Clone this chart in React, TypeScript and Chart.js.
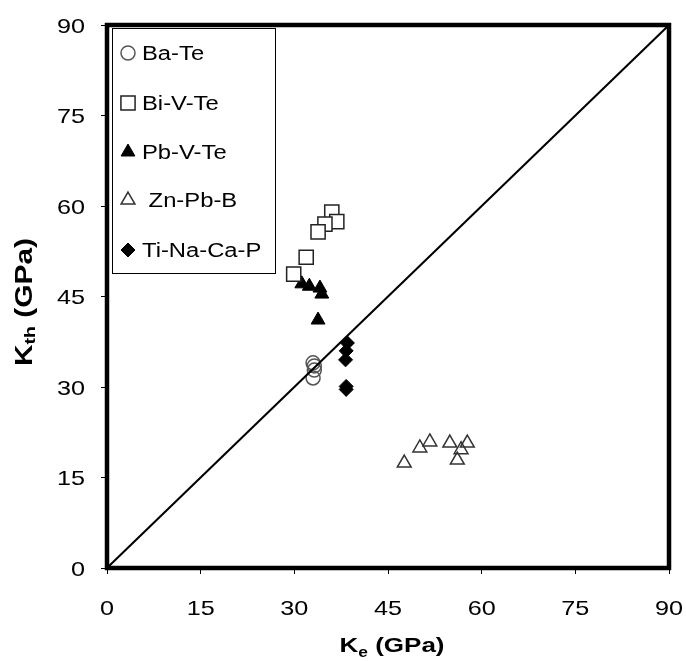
import { useEffect, useRef } from 'react';
import { Chart, registerables } from 'chart.js';
import { drawPoint } from 'chart.js/helpers';

Chart.register(...registerables);

// ---- data ----
const seriesNames = ['Ba-Te', 'Bi-V-Te', 'Pb-V-Te', ' Zn-Pb-B', 'Ti-Na-Ca-P'];

const baTeX = [33.0, 33.2, 33.2, 33.0];
const baTeY = [34.0, 33.5, 32.8, 31.5];

const biVTeX = [36.0, 36.8, 34.9, 33.8, 31.9, 29.9];
const biVTeY = [59.0, 57.4, 57.0, 55.7, 51.5, 48.7];

const pbVTeX = [30.1, 31.2, 32.4, 34.1, 34.4, 33.8];
const pbVTeY = [48.2, 47.1, 46.7, 46.4, 45.4, 41.1];

const znPbBX = [47.6, 50.1, 51.7, 54.9, 56.7, 57.7, 56.1];
const znPbBY = [17.4, 19.9, 20.9, 20.7, 19.6, 20.7, 17.9];

const tiNaCaPX = [38.5, 38.3, 38.2, 38.3, 38.3];
const tiNaCaPY = [37.3, 36.0, 34.5, 30.1, 29.6];

const lineX = [0, 90];
const lineY = [0, 90];

const axisMin = 0;
const axisMax = 90;
const axisStep = 15;

const xTitleParts = [
  { t: 'K', sub: false },
  { t: 'e', sub: true },
  { t: ' (GPa)', sub: false },
];
const yTitleParts = [
  { t: 'K', sub: false },
  { t: 'th', sub: true },
  { t: ' (GPa)', sub: false },
];

const zip = (xs: number[], ys: number[]) => xs.map((x, i) => ({ x, y: ys[i] }));

const FONT = "'Liberation Sans', Arial, sans-serif";

type Part = { t: string; sub: boolean };

function drawRich(
  ctx: CanvasRenderingContext2D,
  parts: Part[],
  mainFont: string,
  subFont: string,
  subShift: number,
  targetW: number
) {
  let w = 0;
  const ws = parts.map((p) => {
    ctx.font = p.sub ? subFont : mainFont;
    const m = ctx.measureText(p.t).width;
    w += m;
    return m;
  });
  const s = targetW / w;
  ctx.save();
  ctx.scale(s, 1);
  ctx.textAlign = 'left';
  ctx.textBaseline = 'alphabetic';
  let x = -w / 2;
  parts.forEach((p, i) => {
    ctx.font = p.sub ? subFont : mainFont;
    ctx.fillText(p.t, x, p.sub ? subShift : 0);
    x += ws[i];
  });
  ctx.restore();
}

function drawStretched(
  ctx: CanvasRenderingContext2D,
  text: string,
  x: number,
  y: number,
  font: string,
  align: 'left' | 'right' | 'center',
  sx: number
) {
  ctx.save();
  ctx.translate(x, y);
  ctx.scale(sx, 1);
  ctx.font = font;
  ctx.textAlign = align;
  ctx.textBaseline = 'alphabetic';
  ctx.fillText(text, 0, 0);
  ctx.restore();
}

const decorPlugin = {
  id: 'decor',
  afterDraw(chart: any) {
    const ctx: CanvasRenderingContext2D = chart.ctx;
    const { left, right, top, bottom } = chart.chartArea;
    const xs = chart.scales.x;
    const ys = chart.scales.y;

    ctx.save();
    ctx.fillStyle = '#000';

    // frame
    ctx.strokeStyle = '#000';
    ctx.lineWidth = 4.5;
    ctx.strokeRect(left, top, right - left, bottom - top);

    // tick labels
    const tickFont = `21px ${FONT}`;
    xs.ticks.forEach((t: any) => {
      const px = xs.getPixelForValue(t.value);
      drawStretched(ctx, String(t.value), px, 615, tickFont, 'center', 1.2);
    });
    ys.ticks.forEach((t: any) => {
      const py = ys.getPixelForValue(t.value);
      drawStretched(ctx, String(t.value), 85, py + 7.5, tickFont, 'right', 1.2);
    });

    // axis titles
    ctx.save();
    ctx.translate(392, 652);
    drawRich(ctx, xTitleParts, `bold 21px ${FONT}`, `bold 14px ${FONT}`, 5, 105);
    ctx.restore();

    ctx.save();
    ctx.translate(32, 302);
    ctx.rotate(-Math.PI / 2);
    drawRich(ctx, yTitleParts, `bold 23px ${FONT}`, `bold 15px ${FONT}`, 3, 128);
    ctx.restore();

    // legend
    const lx0 = 112, ly0 = 28, lx1 = 275, ly1 = 273;
    ctx.fillStyle = '#fff';
    ctx.fillRect(lx0, ly0, lx1 - lx0, ly1 - ly0);
    ctx.strokeStyle = '#000';
    ctx.lineWidth = 1;
    ctx.strokeRect(lx0 + 0.5, ly0 + 0.5, lx1 - lx0, ly1 - ly0);

    const rowY = [53, 103, 152, 200, 250];
    chart.data.datasets.forEach((ds: any, i: number) => {
      if (i >= seriesNames.length) return;
      const cy = rowY[i];
      ctx.save();
      ctx.fillStyle = ds.pointBackgroundColor;
      ctx.strokeStyle = ds.pointBorderColor;
      ctx.lineWidth = ds.pointBorderWidth;
      drawPoint(ctx, {
        pointStyle: ds.pointStyle,
        radius: ds.pointRadius,
        rotation: 0,
        borderWidth: ds.pointBorderWidth,
      } as any, 128, cy);
      ctx.restore();
      ctx.fillStyle = '#000';
      drawStretched(ctx, ds.label, 142, cy + 7, `19.5px ${FONT}`, 'left', 1.22);
    });

    ctx.restore();
  },
};

export default function App() {
  const ref = useRef<HTMLCanvasElement | null>(null);

  useEffect(() => {
    if (!ref.current) return;
    const mk = (
      label: string,
      data: { x: number; y: number }[],
      style: string,
      radius: number,
      bg: string,
      border: string,
      bw: number
    ) => ({
      label,
      data,
      showLine: false,
      pointStyle: style,
      pointRadius: radius,
      pointHoverRadius: radius,
      pointBackgroundColor: bg,
      pointBorderColor: border,
      pointBorderWidth: bw,
      order: 2,
    });

    const chart = new Chart(ref.current, {
      type: 'scatter',
      data: {
        datasets: [
          mk(seriesNames[0], zip(baTeX, baTeY), 'circle', 7, 'rgba(255,255,255,0)', '#555', 1.5),
          mk(seriesNames[1], zip(biVTeX, biVTeY), 'rect', 10, '#fff', '#222', 1.5),
          mk(seriesNames[2], zip(pbVTeX, pbVTeY), 'triangle', 8, '#000', '#000', 1),
          mk(seriesNames[3], zip(znPbBX, znPbBY), 'triangle', 8, 'rgba(255,255,255,0)', '#333', 1.5),
          mk(seriesNames[4], zip(tiNaCaPX, tiNaCaPY), 'rectRot', 7, '#000', '#000', 1),
          {
            label: 'diag',
            data: zip(lineX, lineY),
            showLine: true,
            borderColor: '#000',
            borderWidth: 2,
            pointRadius: 0,
            pointHoverRadius: 0,
            order: 0,
          } as any,
        ],
      },
      options: {
        animation: false,
        responsive: false,
        events: [],
        layout: { padding: { left: 0, top: 25, right: 17, bottom: 0 } },
        plugins: {
          legend: { display: false },
          tooltip: { enabled: false },
        },
        scales: {
          x: {
            type: 'linear',
            min: axisMin,
            max: axisMax,
            ticks: { stepSize: axisStep, display: false },
            grid: {
              display: true,
              drawOnChartArea: false,
              drawTicks: true,
              tickLength: 6,
              color: '#000',
              lineWidth: 1,
            },
            border: { display: false },
            afterFit: (s: any) => {
              s.height = 93;
            },
          },
          y: {
            type: 'linear',
            min: axisMin,
            max: axisMax,
            ticks: { stepSize: axisStep, display: false },
            grid: {
              display: true,
              drawOnChartArea: false,
              drawTicks: true,
              tickLength: 6,
              color: '#000',
              lineWidth: 1,
            },
            border: { display: false },
            afterFit: (s: any) => {
              s.width = 107;
            },
          },
        },
      } as any,
      plugins: [decorPlugin],
    });
    return () => chart.destroy();
  }, []);

  return (
    <div style={{ position: 'absolute', left: 0, top: 0, width: 686, height: 661, background: '#fff' }}>
      <canvas ref={ref} width={686} height={661} style={{ display: 'block', width: 686, height: 661 }} />
    </div>
  );
}
